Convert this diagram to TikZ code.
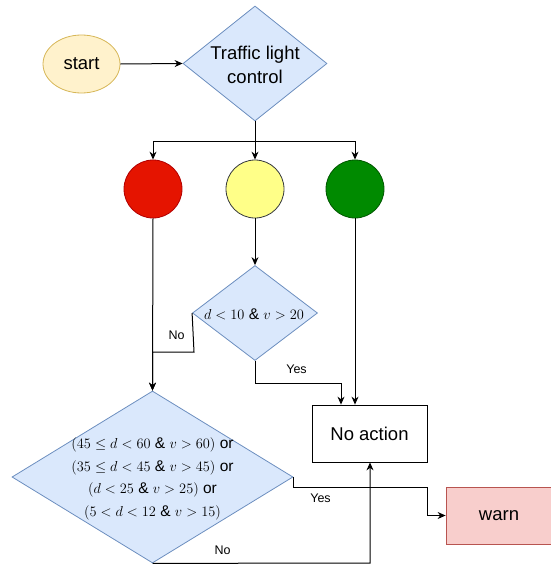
\documentclass[tikz,border=0pt]{standalone}
\usepackage[no-math]{fontspec}
\setmainfont{Liberation Sans}
\usetikzlibrary{shapes.geometric,arrows.meta}
\definecolor{diaF}{HTML}{DAE8FC}
\definecolor{diaB}{HTML}{6C8EBF}
\definecolor{startF}{HTML}{FFF2CC}
\definecolor{startB}{HTML}{D6B656}
\definecolor{warnF}{HTML}{F8CECC}
\definecolor{warnB}{HTML}{B85450}
\definecolor{redF}{HTML}{E51400}
\definecolor{redB}{HTML}{B20000}
\definecolor{yelF}{HTML}{FFFF88}
\definecolor{yelB}{HTML}{36393D}
\definecolor{grnF}{HTML}{008A00}
\definecolor{grnB}{HTML}{005700}
\tikzset{
  dia/.style={shape=diamond, draw=diaB, fill=diaF, inner sep=0pt, line width=0.8pt},
  lamp/.style={shape=circle, minimum size=58pt, inner sep=0pt, line width=0.8pt},
  boxn/.style={shape=rectangle, inner sep=0pt, line width=0.8pt, font=\fontsize{18.5}{22}\selectfont},
  txt/.style={inner sep=0pt, align=center},
  lbl/.style={inner sep=0pt, font=\fontsize{12.5}{15}\selectfont},
  conn/.style={line width=1pt, draw=black},
  arr/.style={conn, -{Stealth[length=8pt,width=7pt]}}
}
\begin{document}
\begin{tikzpicture}[x=1pt,y=-1pt]
\useasboundingbox (0,0) rectangle (551,565);
% start and control
\node[shape=ellipse, draw=startB, fill=startF, minimum width=77pt, minimum height=58pt, inner sep=0pt, line width=0.8pt, font=\fontsize{18.5}{22}\selectfont] (start) at (81.5,64) {start};
\node[dia, minimum width=144pt, minimum height=115pt] (tlc) at (255,63.5) {};
\node[txt, font=\fontsize{18.5}{24}\selectfont] (tlct) at (255,65) {Traffic light\\control};
% lamps
\node[lamp, draw=redB, fill=redF] (red) at (153,189) {};
\node[lamp, draw=yelB, fill=yelF] (yel) at (255,189) {};
\node[lamp, draw=grnB, fill=grnF] (grn) at (355,189) {};
% small decision
\node[dia, minimum width=125pt, minimum height=95pt] (sd) at (255,313) {};
\node[txt, font=\fontsize{15.5}{18}\selectfont] (sdt) at (254,314) {$d<10$ \& $v>20$};
% big decision
\node[dia, minimum width=281pt, minimum height=172pt] (bd) at (152.5,477) {};
\node[txt, font=\fontsize{15.5}{22.5}\selectfont] (bdt) at (152.5,479) {$(45\leq d<60$ \& $v>60)$ or\\$(35\leq d<45$ \& $v>45)$ or\\$(d<25$ \& $v>25)$ or\\$(5<d<12$ \& $v>15)$};
% outcomes
\node[boxn, draw=black, minimum width=115pt, minimum height=57pt] (noact) at (369.5,433.5) {No action};
\node[boxn, draw=warnB, fill=warnF, minimum width=106pt, minimum height=57pt] (warn) at (499,515.5) {warn};
% connectors
\draw[arr] (start.east) -- (tlc.west);
\coordinate (br) at (255,141);
\draw[conn] (tlc.south) -- (br);
\draw[arr] (br) -| (red.north);
\draw[arr] (br) -- (yel.north);
\draw[arr] (br) -| (grn.north);
\draw[arr] (yel.south) -- (sd.north);
\draw[arr] (red.south) -- (bd.north);
\coordinate (nj) at (194,352);
\draw[arr] (sd.west) -- (nj) -| (bd.north);
\coordinate (yj) at (341,383);
\draw[arr] (sd.south) |- (yj) -- (yj |- noact.north);
\draw[arr] (grn.south) -- (grn.south |- noact.north);
\coordinate (wj) at (427,487);
\draw[arr] (bd.east) |- (wj) |- (warn.west);
\coordinate (nb) at (370,563);
\draw[arr] (bd.south) -- (nb) -- (nb |- noact.south);
% labels
\node[lbl] (lno1) at (176.5,335) {No};
\node[lbl] (lyes1) at (296.5,369.5) {Yes};
\node[lbl] (lyes2) at (320.5,498) {Yes};
\node[lbl] (lno2) at (222.5,550) {No};
\end{tikzpicture}
\end{document}
